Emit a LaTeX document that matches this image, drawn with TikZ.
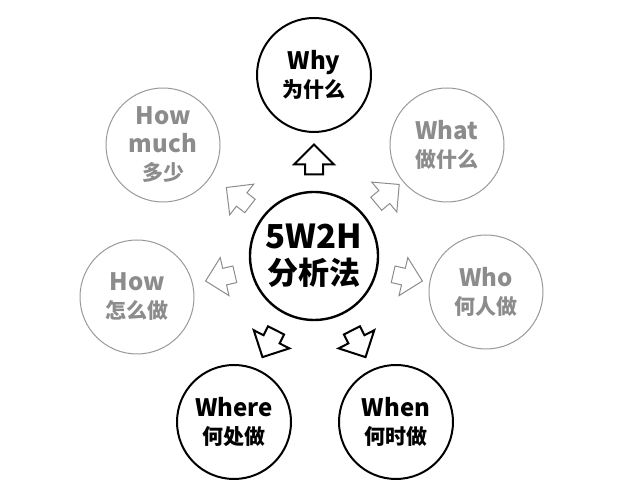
\documentclass[tikz,border=0pt]{standalone}
\usepackage{fontspec}
\setmainfont{Noto Sans CJK SC}
\usetikzlibrary{positioning, shapes.arrows, calc}
\newcommand{\zh}{\fontsize{21}{27}\selectfont}
\newcommand{\zhbig}{\fontsize{31}{36}\selectfont}

\begin{document}
\begin{tikzpicture}[
        x=1pt, y=1pt,
        every node/.style={align=center, font=\bfseries},
        bigcircle/.style={draw, circle, line width=2.4pt, minimum size=128pt, inner sep=0pt, font=\bfseries\fontsize{33}{36}\selectfont},
        keycircle/.style={draw, circle, line width=2pt, minimum size=114pt, inner sep=0pt, font=\bfseries\fontsize{24}{28}\selectfont},
        softcircle/.style={keycircle, draw=black!40, text=black!45, line width=1pt},
        blockarrow/.style={draw, single arrow, line width=2pt, minimum height=30pt, minimum width=38pt,
            single arrow head extend=11pt, inner sep=8pt},
        softarrow/.style={blockarrow, draw=black!45, line width=1pt}
    ]
    \useasboundingbox (0,0) rectangle (632,502);

    % Nodes
    \node (center) [bigcircle] at (314,246) {5W2H\\\zhbig 分析法};
    \node (why) [keycircle] at (314,427) {Why\\\zh 为什么};
    \node (what) [softcircle] at (447,357) {What\\\zh 做什么};
    \node (howmuch) [softcircle] at (163,357) {How\\much\\\zh 多少};
    \node (who) [softcircle] at (486,210) {Who\\\zh 何人做};
    \node (how) [softcircle] at (137,205) {How\\\zh 怎么做};
    \node (where) [keycircle] at (234,80) {Where\\\zh 何处做};
    \node (when) [keycircle] at (396,80) {When\\\zh 何时做};

    % Arrows
    \node (arrwhy) [blockarrow, rotate=90] at ($(center)+(90:92)$) {};
    \node (arrwhere) [blockarrow, rotate=243] at ($(center)+(243:94)$) {};
    \node (arrwhen) [blockarrow, rotate=297] at ($(center)+(297:94)$) {};
    \foreach \ang/\name in {40/what, 142/howmuch, -13/who, 193/how}
        \node (arr\name) [softarrow, rotate=\ang] at ($(center)+(\ang:92)$) {};
\end{tikzpicture}
\end{document}
